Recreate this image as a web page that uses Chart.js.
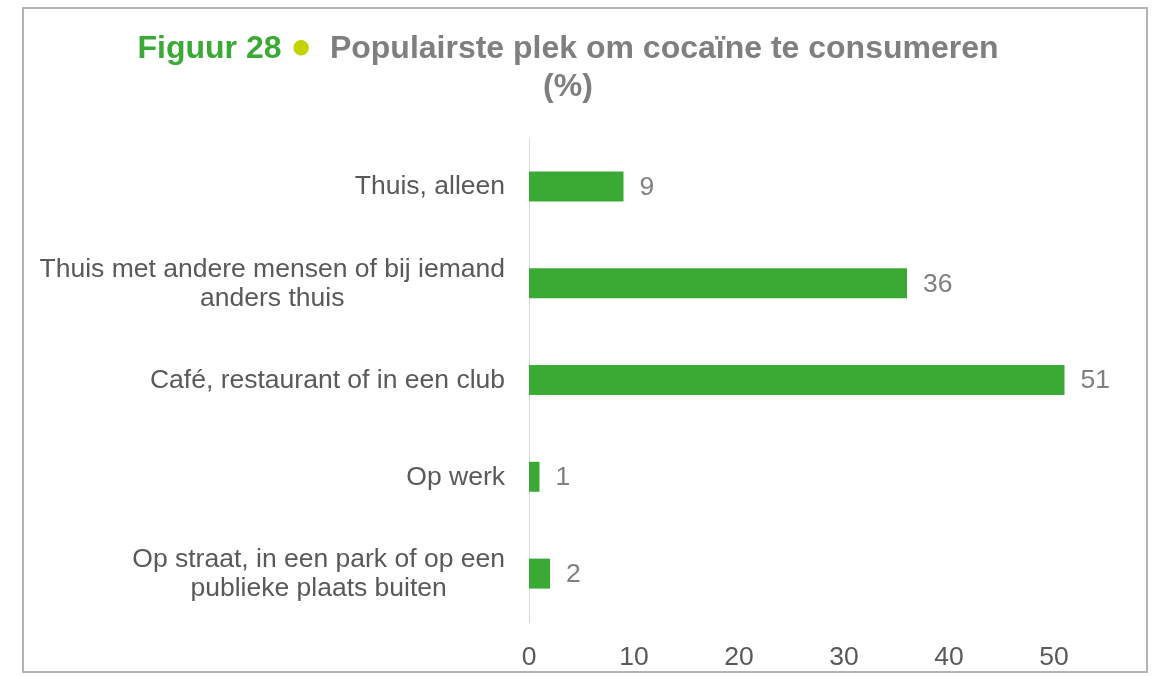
<!DOCTYPE html>
<html>
<head>
<meta charset="utf-8">
<script src="https://cdn.jsdelivr.net/npm/chart.js@4/dist/chart.umd.min.js"></script>
<style>
  body { margin: 0; background: #fff; }
  #wrap { position: relative; width: 1154px; height: 676px; }
  #chart { position: absolute; left: 0; top: 0; }
  #frame {
    position: absolute; left: 22px; top: 7px; width: 1126px; height: 666px;
    box-sizing: border-box; border: 2px solid #b3b3b3; pointer-events: none;
  }
  #title {
    position: absolute; left: 0; top: 28px; width: 1136px; text-align: center;
    font-family: "Liberation Sans", Arial, sans-serif; font-weight: bold;
    font-size: 32px; line-height: 38px; color: #7f7f7f;
  }
  #title .fig { color: #3aaa35; }
  #title .dot { color: #c3d400; font-size: 36px; line-height: 0; vertical-align: 0px; }
</style>
</head>
<body>
<div id="wrap">
  <canvas id="chart" width="1154" height="676"></canvas>
  <div id="frame"></div>
  <div id="title"><span class="fig">Figuur 28</span> <span class="dot">●</span>&nbsp; Populairste plek om cocaïne te consumeren<br>(%)</div>
</div>
<script>
var categories = [
    ["Thuis, alleen"],
    ["Thuis met andere mensen of bij iemand", "anders thuis"],
    ["Café, restaurant of in een club"],
    ["Op werk"],
    ["Op straat, in een park of op een", "publieke plaats buiten"]
];
var values = [9, 36, 51, 1, 2];
var xTicks = [0, 10, 20, 30, 40, 50];
var xMax = 56;

var FONT = '"Liberation Sans", Arial, sans-serif';

// category labels: block right-aligned, lines centred inside the block
var yLabels = {
    id: 'yLabels',
    afterDraw: function(chart) {
        var ctx = chart.ctx, y = chart.scales.y;
        var right = chart.chartArea.left - 24;
        ctx.save();
        ctx.font = '26.5px ' + FONT;
        ctx.fillStyle = '#595959';
        ctx.textAlign = 'center';
        ctx.textBaseline = 'middle';
        categories.forEach(function(lines, i) {
            var cy = y.getPixelForValue(i);
            var w = Math.max.apply(null, lines.map(function(l){ return ctx.measureText(l).width; }));
            var top = cy - lines.length * 29 / 2;
            lines.forEach(function(l, j) {
                ctx.fillText(l, right - w / 2, top + 29 * j + 15);
            });
        });
        ctx.restore();
    }
};

var valueLabels = {
    id: 'valueLabels',
    afterDatasetsDraw: function(chart) {
        var ctx = chart.ctx;
        ctx.save();
        ctx.font = '26.5px ' + FONT;
        ctx.fillStyle = '#808080';
        ctx.textAlign = 'left';
        ctx.textBaseline = 'middle';
        chart.getDatasetMeta(0).data.forEach(function(bar, i) {
            ctx.fillText(values[i], bar.x + 16, bar.y + 1);
        });
        ctx.restore();
    }
};

var myBarChart = new Chart(document.getElementById('chart'), {
    type: 'bar',
    data: {
        labels: categories,
        datasets: [{
            data: values,
            backgroundColor: '#3aaa35',
            borderWidth: 0,
            categoryPercentage: 1,
            barPercentage: 0.31
        }]
    },
    options: {
        indexAxis: 'y',
        responsive: false,
        animation: false,
        layout: { padding: { top: 138, right: 37, bottom: 0, left: 0 } },
        plugins: { legend: { display: false }, tooltip: { enabled: false } },
        scales: {
            x: {
                min: 0,
                max: xMax,
                grid: { display: false, drawTicks: false },
                border: { display: false },
                ticks: { font: { family: FONT, size: 26.5 }, color: '#595959', padding: 20, maxRotation: 0 },
                afterBuildTicks: function(s) { s.ticks = xTicks.map(function(v){ return { value: v }; }); },
                afterFit: function(s) { s.height = 54; }
            },
            y: {
                grid: { display: false, drawTicks: false },
                border: { display: true, color: '#d9d9d9', width: 1 },
                ticks: { display: false },
                afterFit: function(s) { s.width = 529; }
            }
        }
    },
    plugins: [yLabels, valueLabels]
});
</script>
</body>
</html>
